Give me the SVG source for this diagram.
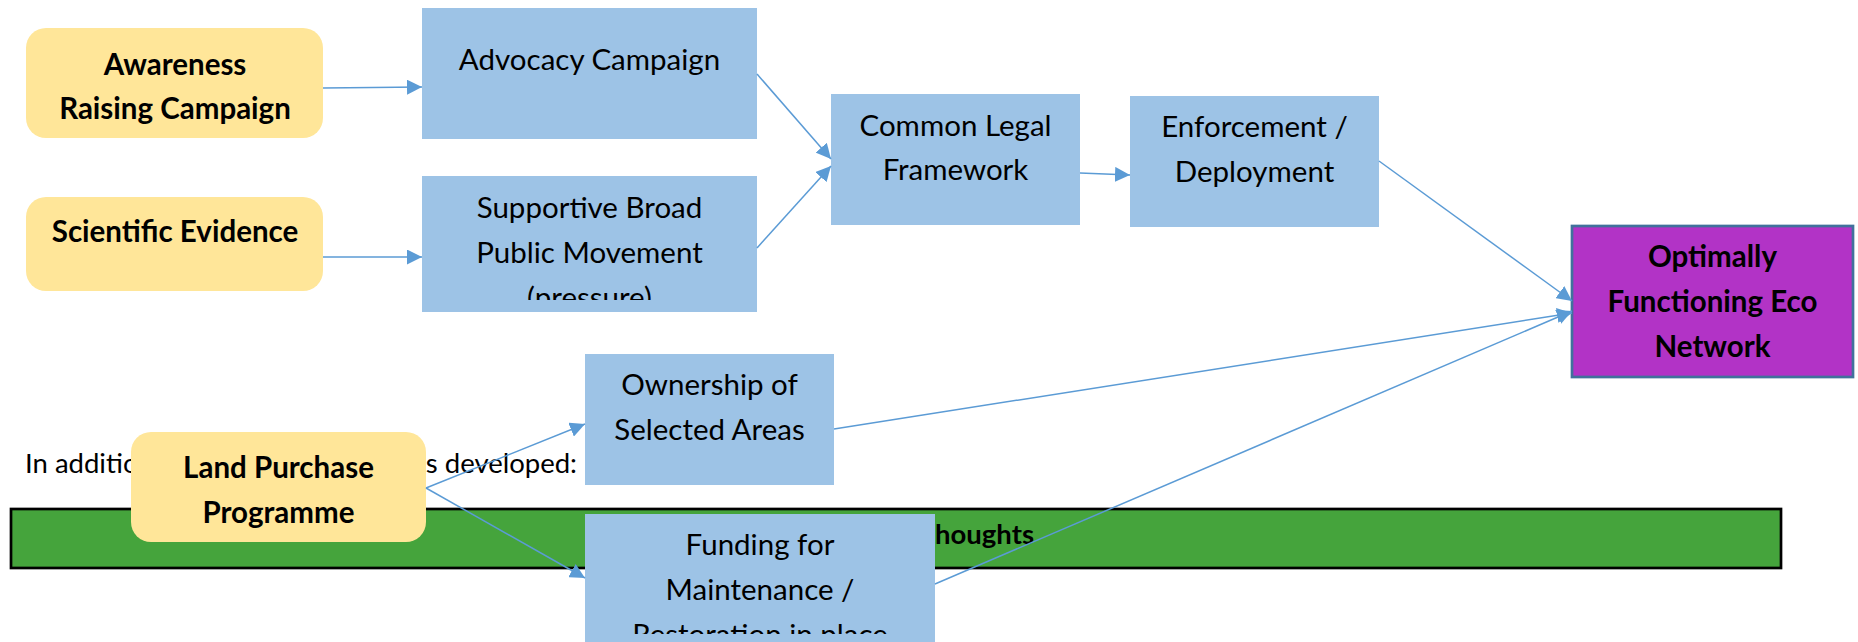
<svg xmlns="http://www.w3.org/2000/svg" width="1858" height="642" viewBox="0 0 1858 642">
<defs>
<style>
.yel{fill:#FFE699;}
.blu{fill:#9DC3E6;}
.pur{fill:#B233C6;stroke:#41719C;stroke-width:2.7;}
.bar{fill:#45A43C;stroke:#000;stroke-width:2.7;}
.t{font-family:Lato,"Liberation Sans",sans-serif;font-size:29.5px;fill:#000;text-anchor:middle;}
.b{font-weight:bold;}
.body{font-family:Lato,"Liberation Sans",sans-serif;font-size:27.5px;fill:#000;}
.conn{stroke:#5B9BD5;stroke-width:1.5;fill:none;marker-end:url(#ah);}
</style>
<marker id="ah" markerUnits="userSpaceOnUse" markerWidth="15" markerHeight="15" refX="15" refY="7.5" orient="auto">
<path d="M0,0 L15,7.5 L0,15 z" fill="#5B9BD5"/>
</marker>
<clipPath id="clipSup"><rect x="422" y="176" width="335" height="124"/></clipPath>
<clipPath id="clipFund"><rect x="585" y="514" width="350" height="120"/></clipPath>
</defs>

<g id="intro-text">
<text class="body" x="25" y="473">In additio</text>
<text class="body" x="577" y="473" text-anchor="end">s developed:</text>
</g>

<g id="thoughts-bar">
<rect class="bar" x="11" y="509" width="1770" height="59"/>
<text class="body b" x="1034" y="544" text-anchor="end">thoughts</text>
</g>

<g id="awareness">
<rect class="yel" x="26" y="28" width="297" height="110" rx="20"/>
<text class="t b" x="175" y="75">Awareness</text>
<text class="t b" x="175" y="119">Raising Campaign</text>
</g>

<g id="scientific">
<rect class="yel" x="26" y="197" width="297" height="94" rx="20"/>
<text class="t b" x="175" y="242">Scientific Evidence</text>
</g>

<g id="advocacy">
<rect class="blu" x="422" y="8" width="335" height="131"/>
<text class="t" x="589.5" y="70">Advocacy Campaign</text>
</g>

<g id="supportive">
<rect class="blu" x="422" y="176" width="335" height="136"/>
<g clip-path="url(#clipSup)">
<text class="t" x="589.5" y="218">Supportive Broad</text>
<text class="t" x="589.5" y="263">Public Movement</text>
<text class="t" x="589.5" y="308">(pressure)</text>
</g>
</g>

<g id="legal">
<rect class="blu" x="831" y="94" width="249" height="131"/>
<text class="t" x="955.5" y="136">Common Legal</text>
<text class="t" x="955.5" y="180">Framework</text>
</g>

<g id="enforcement">
<rect class="blu" x="1130" y="96" width="249" height="131"/>
<text class="t" x="1254.5" y="137">Enforcement /</text>
<text class="t" x="1254.5" y="182">Deployment</text>
</g>

<g id="optimal">
<rect class="pur" x="1572" y="226" width="281" height="151"/>
<text class="t b" x="1712.5" y="267">Optimally</text>
<text class="t b" x="1712.5" y="312">Functioning Eco</text>
<text class="t b" x="1712.5" y="357">Network</text>
</g>

<g id="ownership">
<rect class="blu" x="585" y="354" width="249" height="131"/>
<text class="t" x="709.5" y="395">Ownership of</text>
<text class="t" x="709.5" y="440">Selected Areas</text>
</g>

<g id="funding">
<rect class="blu" x="585" y="514" width="350" height="128"/>
<g clip-path="url(#clipFund)">
<text class="t" x="760" y="555">Funding for</text>
<text class="t" x="760" y="600">Maintenance /</text>
<text class="t" x="760" y="645">Restoration in place</text>
</g>
</g>

<g id="land">
<rect class="yel" x="131" y="432" width="295" height="110" rx="20"/>
<text class="t b" x="278.5" y="478">Land Purchase</text>
<text class="t b" x="278.5" y="523">Programme</text>
</g>

<g id="connectors">
<line class="conn" x1="323" y1="88" x2="422" y2="87"/>
<line class="conn" x1="323" y1="257" x2="422" y2="257"/>
<line class="conn" x1="757" y1="74" x2="831" y2="159"/>
<line class="conn" x1="757" y1="248" x2="831" y2="166"/>
<line class="conn" x1="1080" y1="173" x2="1130" y2="175"/>
<line class="conn" x1="1379" y1="161" x2="1572" y2="301"/>
<line class="conn" x1="834" y1="429" x2="1572" y2="313"/>
<line class="conn" x1="935" y1="584" x2="1572" y2="311"/>
<line class="conn" x1="426" y1="488" x2="585" y2="424"/>
<line class="conn" x1="426" y1="488" x2="585" y2="578"/>
</g>
</svg>
